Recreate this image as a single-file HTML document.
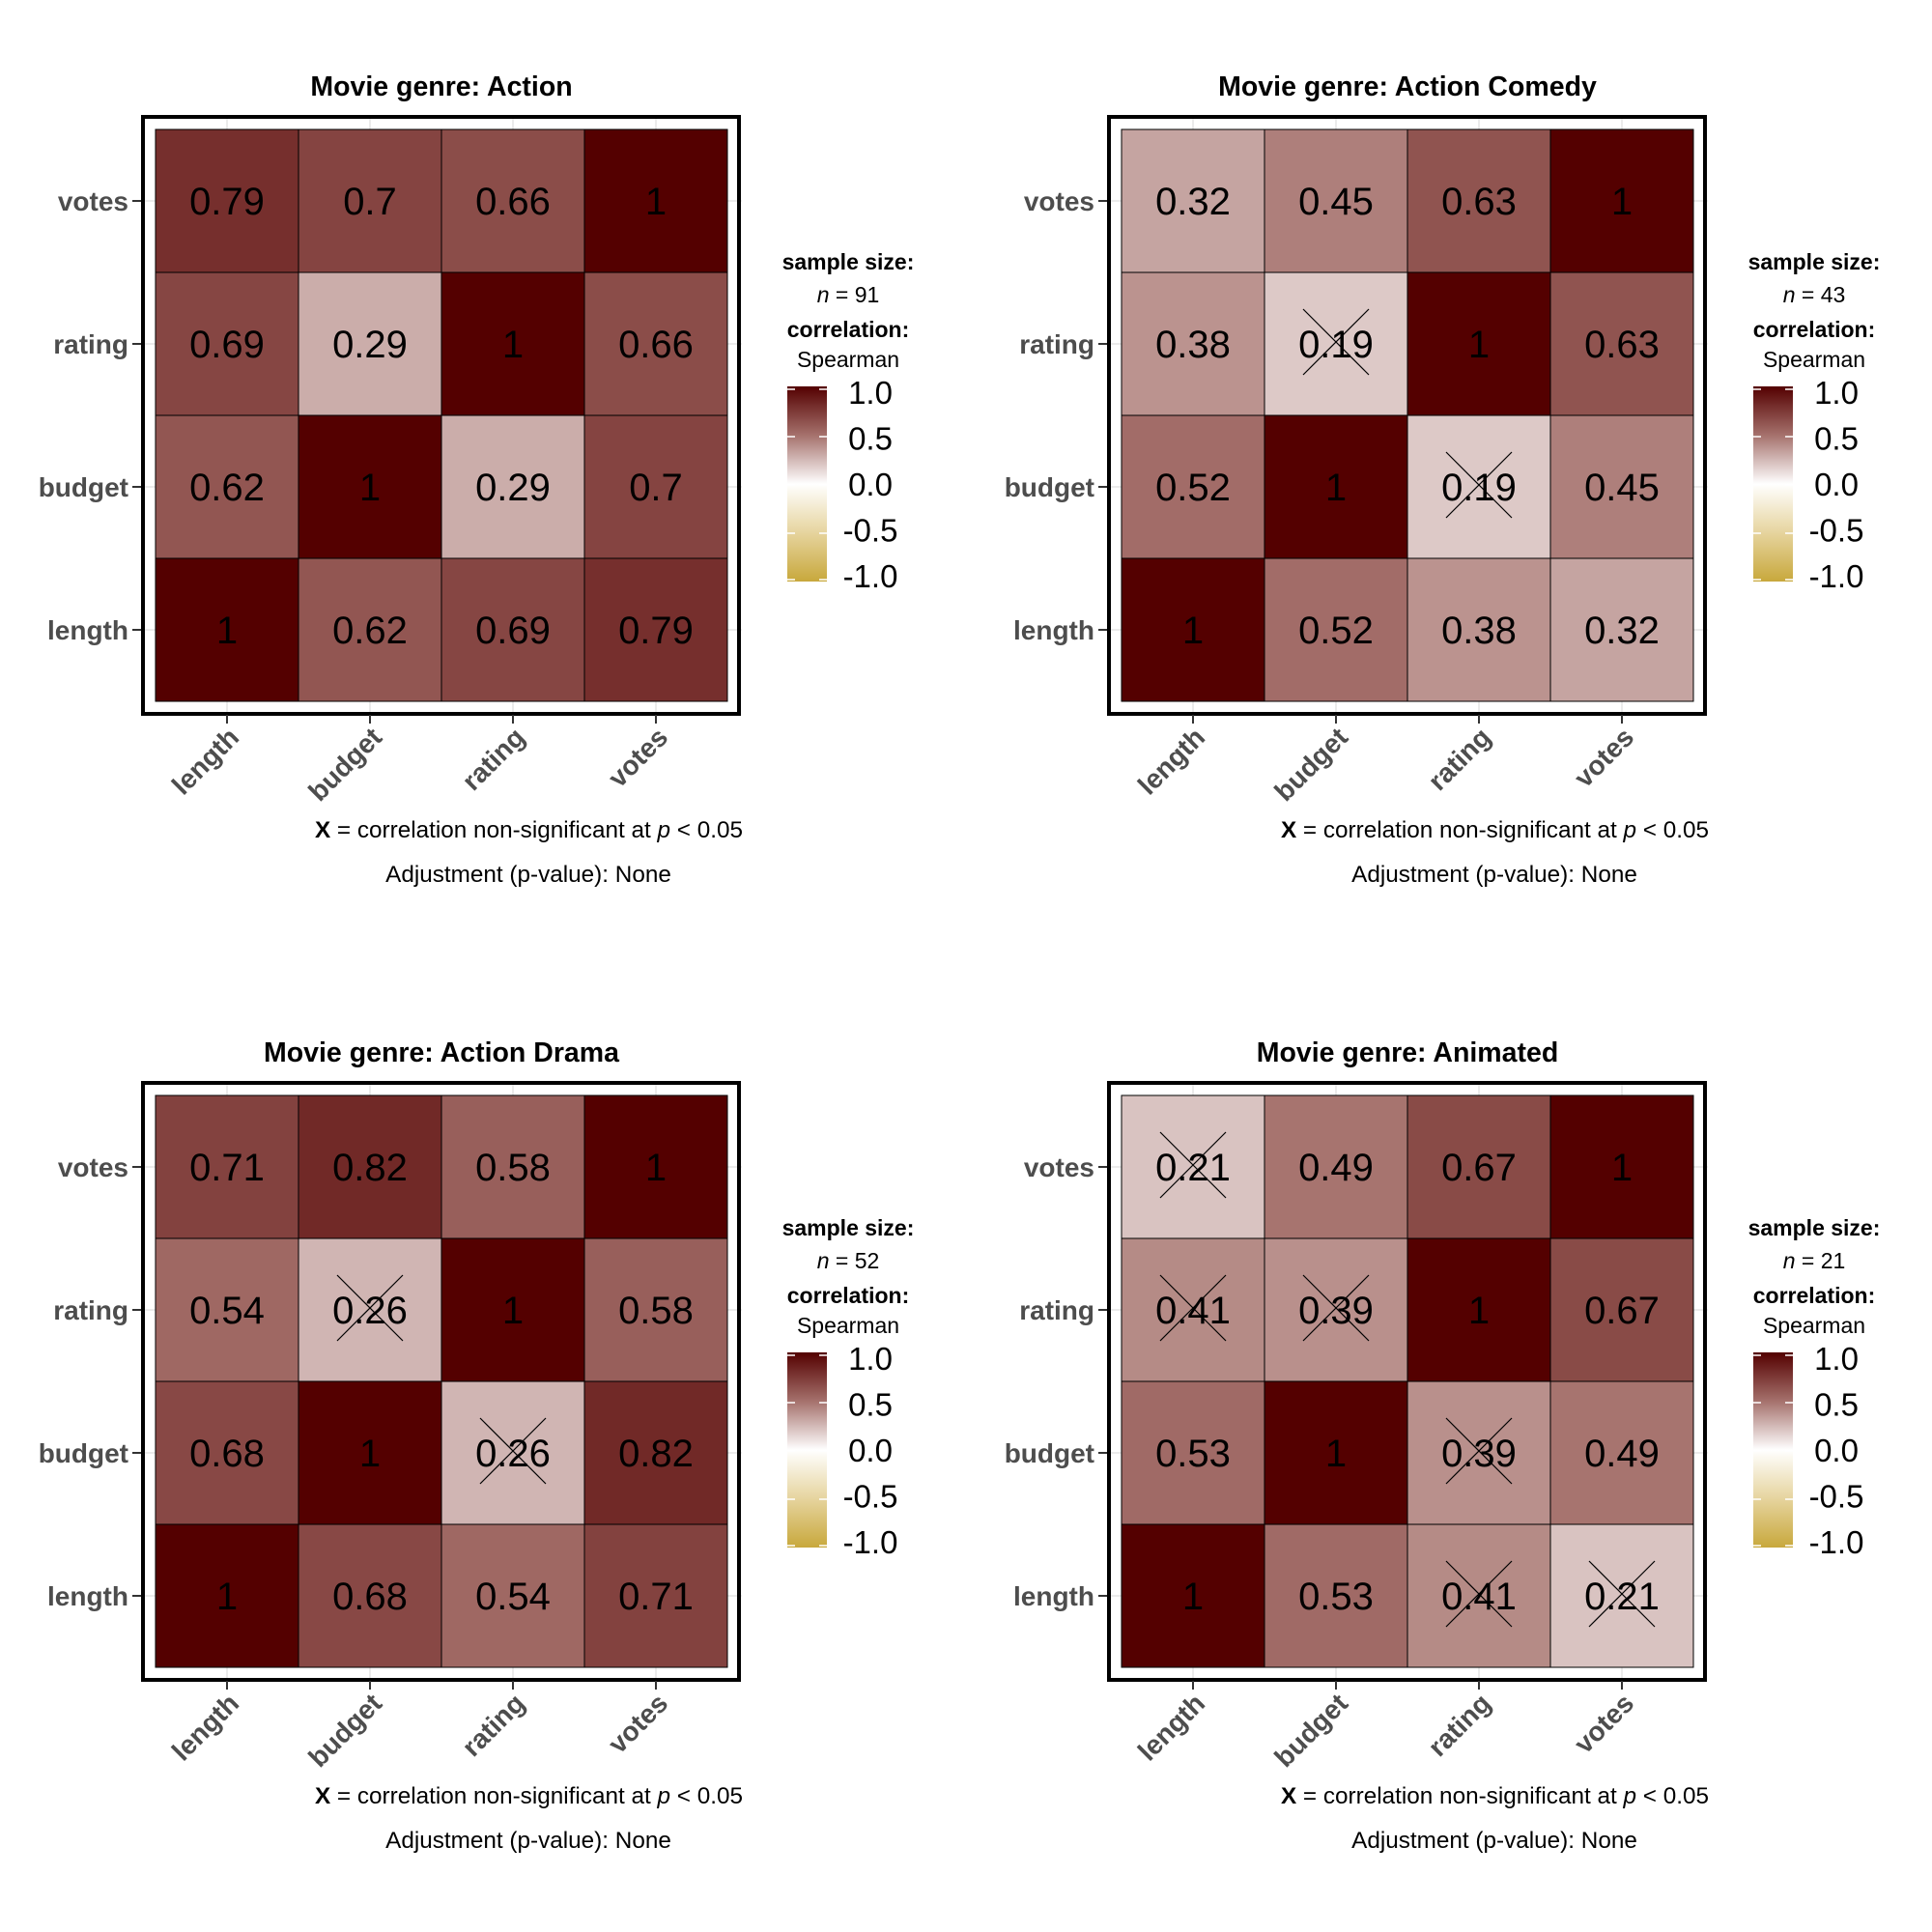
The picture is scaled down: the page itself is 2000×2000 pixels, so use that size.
<!DOCTYPE html>
<html><head><meta charset="utf-8"><style>
html,body{margin:0;padding:0;background:#fff;}
svg{display:block;font-family:"Liberation Sans",Arial,sans-serif;}
</style></head><body>
<svg id="chart" width="2000" height="2000" viewBox="0 0 2000 2000" xmlns="http://www.w3.org/2000/svg">
<defs>
<linearGradient id="cbar" x1="0" y1="1" x2="0" y2="0">
<stop offset="0" stop-color="#c8a83c"/>
<stop offset="0.25" stop-color="#e6d49e"/>
<stop offset="0.5" stop-color="#ffffff"/>
<stop offset="0.75" stop-color="#a5716c"/>
<stop offset="1" stop-color="#540000"/>
</linearGradient>
</defs>
</svg>
<script>
const variables = ["length","budget","rating","votes"];
const panelTitles = ["Movie genre: Action","Movie genre: Action Comedy","Movie genre: Action Drama","Movie genre: Animated"];
const sampleSizes = [91,43,52,21];
// pair order: L-B, L-R, L-V, B-R, B-V, R-V
const corrAction = [0.62,0.69,0.79,0.29,0.7,0.66];
const corrActionComedy = [0.52,0.38,0.32,0.19,0.45,0.63];
const corrActionDrama = [0.68,0.54,0.71,0.26,0.82,0.58];
const corrAnimated = [0.53,0.41,0.21,0.39,0.49,0.67];
const nonSigAction = [];
const nonSigActionComedy = [3];
const nonSigActionDrama = [3];
const nonSigAnimated = [1,2,3];
const legendTicks = [1.0,0.5,0.0,-0.5,-1.0];

const corrSets=[corrAction,corrActionComedy,corrActionDrama,corrAnimated];
const nsSets=[nonSigAction,nonSigActionComedy,nonSigActionDrama,nonSigAnimated];
const pairs=[[0,1],[0,2],[0,3],[1,2],[1,3],[2,3]];
const svg=document.getElementById('chart');
const NS='http://www.w3.org/2000/svg';
function mk(tag,attrs,parent,text){const e=document.createElementNS(NS,tag);for(const k in attrs)e.setAttribute(k,attrs[k]);if(text!==undefined)e.textContent=text;parent.appendChild(e);return e;}
function hex(c){return '#'+c.map(v=>Math.round(v).toString(16).padStart(2,'0')).join('');}
function lerp(a,b,t){return a.map((v,i)=>v+(b[i]-v)*t);}
function colorOf(v){const W=[255,255,255],M=[165,113,108],D=[84,0,0],Y2=[230,212,158],Y=[200,168,60];
 if(v>=0.5)return hex(lerp(M,D,(v-0.5)/0.5));if(v>=0)return hex(lerp(W,M,v/0.5));
 if(v>=-0.5)return hex(lerp(W,Y2,-v/0.5));return hex(lerp(Y2,Y,(-v-0.5)/0.5));}
function fmt(v){return String(v);}
const T0X=161,T0Y=134,TS=148;
const xS=i=>T0X+TS*i+TS/2;
const yS=i=>T0Y+TS*(3-i)+TS/2;
const legY=v=>400+(1-v)/2*200;
const legLabelY=v=>406+(1-v)*95;

for(let p=0;p<4;p++){
 const ox=(p%2)*1000, oy=Math.floor(p/2)*1000;
 const g=mk('g',{transform:`translate(${ox},${oy})`},svg);
 
 
 const t=mk('text',{x:457,y:99,'text-anchor':'middle','font-size':28.5,'font-weight':'bold',fill:'#000'},g,panelTitles[p]);
 
 
 for(let i=0;i<4;i++){
  const gl1=mk('line',{x1:xS(i),x2:xS(i),y1:119,y2:739,stroke:'#ebebeb','stroke-width':2},g);
  
  
  const gl2=mk('line',{x1:146,x2:768,y1:yS(i),y2:yS(i),stroke:'#ebebeb','stroke-width':2},g);
  
  
 }
 const m=[[1,0,0,0],[0,1,0,0],[0,0,1,0],[0,0,0,1]];
 const ns=[[0,0,0,0],[0,0,0,0],[0,0,0,0],[0,0,0,0]];
 pairs.forEach((pr,k)=>{m[pr[0]][pr[1]]=m[pr[1]][pr[0]]=corrSets[p][k];});
 nsSets[p].forEach(k=>{const pr=pairs[k];ns[pr[0]][pr[1]]=ns[pr[1]][pr[0]]=1;});
 for(let c=0;c<4;c++)for(let r=0;r<4;r++){
  const v=m[c][r];
  const rc=mk('rect',{x:xS(c)-TS/2,y:yS(r)-TS/2,width:TS,height:TS,fill:colorOf(v),stroke:'#000','stroke-width':1},g);
  
  
 }
 for(let c=0;c<4;c++)for(let r=0;r<4;r++){
  const v=m[c][r];
  const tx=mk('text',{x:xS(c),y:yS(r)+14,'text-anchor':'middle','font-size':40,fill:'#000'},g,fmt(v));
  
  
  if(ns[c][r]){
   const cx=xS(c),cy=yS(r)-2,h=34;
   const l1=mk('line',{x1:cx-h,y1:cy-h,x2:cx+h,y2:cy+h,stroke:'#000','stroke-width':1.2},g);
   
   
   const l2=mk('line',{x1:cx-h,y1:cy+h,x2:cx+h,y2:cy-h,stroke:'#000','stroke-width':1.2},g);
   
   
  }
 }
 const box=mk('rect',{x:148,y:121,width:617,height:618,fill:'none',stroke:'#000','stroke-width':4},g);
 
 
 for(let i=0;i<4;i++){
  const yt=mk('line',{x1:137,x2:146,y1:yS(i),y2:yS(i),stroke:'#333','stroke-width':2},g);
  
  
  const yl=mk('text',{x:133,y:yS(i)+10,'text-anchor':'end','font-size':28,'font-weight':'bold',fill:'#4d4d4d'},g,variables[i]);
  
  
  const xt=mk('line',{x1:xS(i),x2:xS(i),y1:740,y2:749,stroke:'#333','stroke-width':2},g);
  
  
  const ax=xS(i)+14, ay=765;
  const xl=mk('text',{x:ax,y:ay,'text-anchor':'end','font-size':28,'font-weight':'bold',fill:'#4d4d4d',transform:`rotate(-45 ${ax} ${ay})`},g,variables[i]);
  
  
 }
 const cap=mk('text',{x:769,y:867,'text-anchor':'end','font-size':24.3,fill:'#000'},g);
 
 
 mk('tspan',{'font-weight':'bold'},cap,'X');
 mk('tspan',{},cap,' = correlation non-significant at ');
 mk('tspan',{'font-style':'italic'},cap,'p');
 mk('tspan',{},cap,' < 0.05');
 const adj=mk('text',{x:547,y:913,'text-anchor':'middle','font-size':24.3,fill:'#000'},g,'Adjustment (p-value): None');
 
 
 const l1=mk('text',{x:878,y:279,'text-anchor':'middle','font-size':23,'font-weight':'bold',fill:'#000'},g,'sample size:');
 
 
 const l2=mk('text',{x:878,y:313,'text-anchor':'middle','font-size':23,fill:'#000'},g);
 
 
 mk('tspan',{'font-style':'italic'},l2,'n');
 mk('tspan',{},l2,' = '+sampleSizes[p]);
 const l3=mk('text',{x:878,y:349,'text-anchor':'middle','font-size':23,'font-weight':'bold',fill:'#000'},g,'correlation:');
 
 
 const l4=mk('text',{x:878,y:380,'text-anchor':'middle','font-size':23,fill:'#000'},g,'Spearman');
 
 
 const cb=mk('rect',{x:815,y:400,width:41,height:202,fill:'url(#cbar)'},g);
 
 
 legendTicks.forEach(v=>{
  const y=Math.min(600,Math.max(403,legY(v)+2));
  const a=mk('line',{x1:815,x2:823,y1:y,y2:y,stroke:'#fff','stroke-width':1.5},g);
  
  
  const b=mk('line',{x1:848,x2:856,y1:y,y2:y,stroke:'#fff','stroke-width':1.5},g);
  
  
  const lt=mk('text',{x:901,y:legLabelY(v)+12,'text-anchor':'middle','font-size':33,fill:'#000'},g,v.toFixed(1));
  
  
 });
}
</script>
</body></html>
